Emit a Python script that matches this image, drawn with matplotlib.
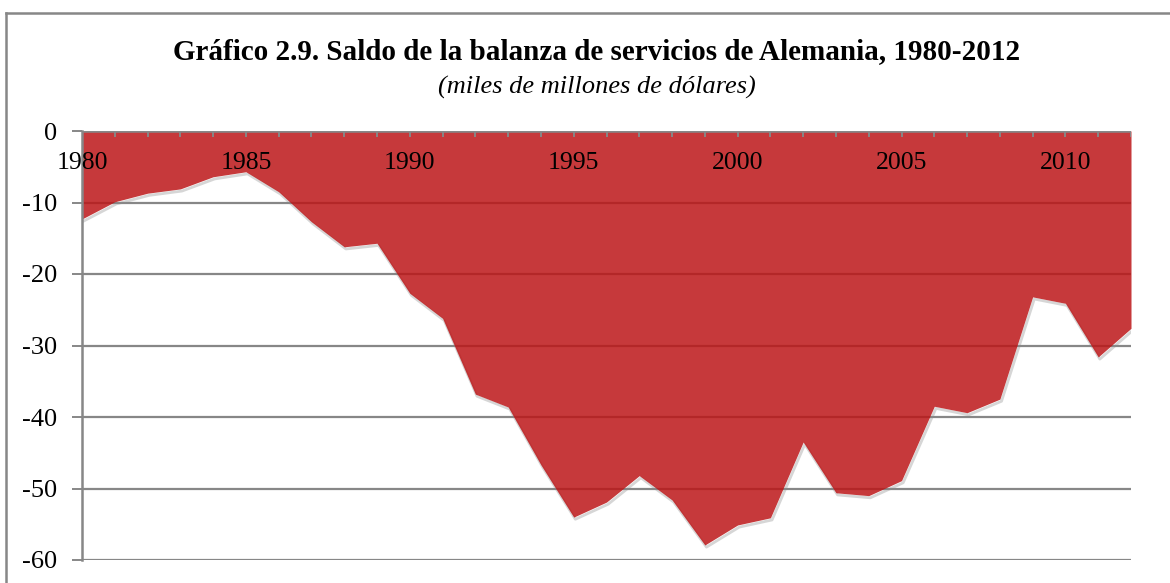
import matplotlib.pyplot as plt
import numpy as np
from matplotlib.lines import Line2D

years = np.arange(1980, 2013)
saldo = [-12.3, -9.9, -8.7, -8.1, -6.4, -5.7, -8.5, -12.7, -16.2, -15.7,
         -22.7, -26.2, -36.8, -38.6, -46.7, -54.0, -51.9, -48.2, -51.6, -57.9,
         -55.1, -54.1, -43.5, -50.6, -51.0, -48.9, -38.5, -39.4, -37.5, -23.2,
         -24.1, -31.6, -27.6]
yticks = [0, -10, -20, -30, -40, -50, -60]
xlabels = [1980, 1985, 1990, 1995, 2000, 2005, 2010]

titulo = 'Gráfico 2.9. Saldo de la balanza de servicios de Alemania, 1980-2012'
subtitulo = '(miles de millones de dólares)'

plt.rcParams['font.family'] = ['Liberation Serif', 'DejaVu Serif']

fig = plt.figure(figsize=(11.7, 5.83), dpi=100)
ax = fig.add_axes([82 / 1170, 1 - 560 / 583, (1131 - 82) / 1170, (560 - 131) / 583])

gris = '#878787'
for v in yticks[1:]:
    ax.axhline(v, color=gris, lw=1.6, zorder=1)

# sombra suave bajo el borde del area
ax.plot(years + 0.05, np.array(saldo) - 0.3, color='#8a8a8a', lw=2.0, alpha=0.35, zorder=1.5)
ax.fill_between(years, saldo, 0, color=(188 / 255, 22 / 255, 24 / 255), alpha=0.85, lw=0, zorder=2)

ax.set_xlim(1980, 2012)
ax.set_ylim(-60, 0)
ax.axhline(0, color=gris, lw=1.8, zorder=3)
for yr in years:
    ax.plot([yr, yr], [0, -0.9], color=gris, lw=1.4, zorder=3, solid_capstyle='butt')

for yr in xlabels:
    ax.text(yr, -4.5, str(yr), ha='center', va='center', fontsize=18.5, zorder=4)

ax.set_xticks([])
ax.set_yticks(yticks)
ax.set_yticklabels([str(v) for v in yticks], fontsize=19)
ax.tick_params(axis='y', length=7, width=1.4, color=gris, pad=11)
for s in ['top', 'right', 'bottom']:
    ax.spines[s].set_visible(False)
ax.spines['left'].set_color(gris)
ax.spines['left'].set_linewidth(1.8)
ax.set_facecolor('none')

# marco exterior
fig.add_artist(Line2D([6 / 1170, 6 / 1170], [0, 1 - 13 / 583], transform=fig.transFigure, color=gris, lw=1.8))
fig.add_artist(Line2D([6 / 1170, 1], [1 - 13 / 583, 1 - 13 / 583], transform=fig.transFigure, color=gris, lw=1.8))

fig.text(597 / 1170, 1 - 52 / 583, titulo, ha='center', va='center', fontsize=21, fontweight='bold')
fig.text(597 / 1170, 1 - 87 / 583, subtitulo, ha='center', va='center', fontsize=19, style='italic')

fig.savefig('out.png', dpi=100)
